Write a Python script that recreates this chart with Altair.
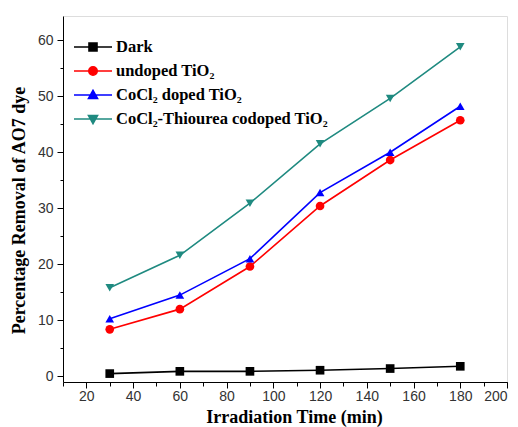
import altair as alt
import pandas as pd

times = [30, 60, 90, 120, 150, 180]
series = ["Dark", "undoped TiO₂", "CoCl₂ doped TiO₂", "CoCl₂-Thiourea codoped TiO₂"]
dark = [0.5, 0.9, 0.9, 1.1, 1.4, 1.8]
undoped = [8.4, 12.0, 19.6, 30.4, 38.6, 45.7]
cocl2 = [10.3, 14.5, 21.0, 32.8, 40.0, 48.2]
codoped = [15.8, 21.6, 30.9, 41.5, 49.6, 58.8]
colors = ["#000000", "#ff0000", "#0000ff", "#1f8a80"]
shapes = ["square", "circle", "triangle-up", "triangle-down"]
legend_shapes = [
    "M-1.9,0H1.9M-0.4,-0.4H0.4V0.4H-0.4Z",
    "M-1.9,0H1.9M-0.42,0A0.42,0.42 0 1,0 0.42,0A0.42,0.42 0 1,0 -0.42,0Z",
    "M-1.9,0H1.9M0,-0.45L0.45,0.35L-0.45,0.35Z",
    "M-1.9,0H1.9M0,0.45L0.45,-0.35L-0.45,-0.35Z",
]

rows = []
for name, vals in zip(series, [dark, undoped, cocl2, codoped]):
    for t, v in zip(times, vals):
        rows.append({"time": t, "value": v, "series": name})
df = pd.DataFrame(rows)

xs = alt.Scale(domain=[10, 200], nice=False, zero=False)
ys = alt.Scale(domain=[-1, 64.3], nice=False, zero=False)
cs = alt.Scale(domain=series, range=colors)

lab_font = "Liberation Sans"
tit_font = "Liberation Serif"

x_minor = alt.X("time:Q", scale=xs, axis=alt.Axis(orient="bottom", values=list(range(10, 201, 10)), labels=False, title=None,
                                                  tickSize=4, domain=False, grid=False, tickColor="#000"))
x_major = alt.X("time:Q", scale=xs, title="Irradiation Time (min)",
                axis=alt.Axis(orient="bottom", values=list(range(20, 201, 20)), tickSize=6, grid=False, domainColor="#000",
                              tickColor="#000", labelFont=lab_font, labelFontSize=14, labelColor="#333",
                              labelPadding=1, titleFont=tit_font, titleFontSize=18, titleFontWeight="bold",
                              titleX=231, titleY=26, titleColor="#000"))
y_minor = alt.Y("value:Q", scale=ys, axis=alt.Axis(orient="left", values=list(range(0, 61, 5)), labels=False, title=None,
                                                   tickSize=3, domain=False, grid=False, tickColor="#000"))
y_major = alt.Y("value:Q", scale=ys, title="Percentage Removal of AO7 dye",
                axis=alt.Axis(orient="left", values=list(range(0, 61, 10)), tickSize=6, grid=False, domainColor="#000",
                              tickColor="#000", labelFont=lab_font, labelFontSize=14, labelColor="#333",
                              labelPadding=4, titleFont=tit_font, titleFontSize=18, titleFontWeight="bold",
                              titleX=-35, titleY=194, titleColor="#000"))

base = alt.Chart(df)

lines = base.mark_line(strokeWidth=1.6).encode(
    x=x_major, y=y_major,
    color=alt.Color("series:N", scale=cs, legend=None),
    detail="series:N",
)

minor = base.mark_point(opacity=0).encode(x=x_minor, y=y_minor)

points = base.mark_point(filled=True, opacity=1, size=75).encode(
    x=alt.X("time:Q", axis=None), y=alt.Y("value:Q", axis=None),
    color=alt.Color("series:N", scale=cs, legend=None),
    shape=alt.Shape("series:N", scale=alt.Scale(domain=series, range=shapes), legend=None),
)

legend_layer = base.transform_filter("false").mark_point(filled=True, opacity=1).encode(
    x=alt.X("time:Q", axis=None), y=alt.Y("value:Q", axis=None),
    fill=alt.Fill("series:N", scale=alt.Scale(domain=series, range=colors), legend=None),
    stroke=alt.Stroke("series:N", scale=alt.Scale(domain=series, range=colors), legend=None),
    shape=alt.Shape("series:N", scale=alt.Scale(domain=series, range=legend_shapes),
                    legend=alt.Legend(title=None, orient="none", legendX=19, legendY=20, padding=0,
                                      symbolSize=400, symbolStrokeWidth=1.6,
                                      labelFont=tit_font, labelFontSize=16.5, labelFontWeight="bold",
                                      labelColor="#000", labelOffset=12, rowPadding=4, labelLimit=400,
                                      symbolOpacity=1)),
)

chart = alt.layer(lines, minor, points, legend_layer).resolve_scale(
    shape="independent", fill="independent", stroke="independent"
).resolve_axis(x="independent", y="independent").properties(
    width=444, height=366,
    padding={"left": 63, "top": 16, "right": 11, "bottom": 45},
    autosize=alt.AutoSizeParams(type="none"),
).configure_view(stroke="#888", strokeWidth=1.2).configure(background="white")

chart.save("out.html", embed_options={"renderer": "svg", "actions": False})
